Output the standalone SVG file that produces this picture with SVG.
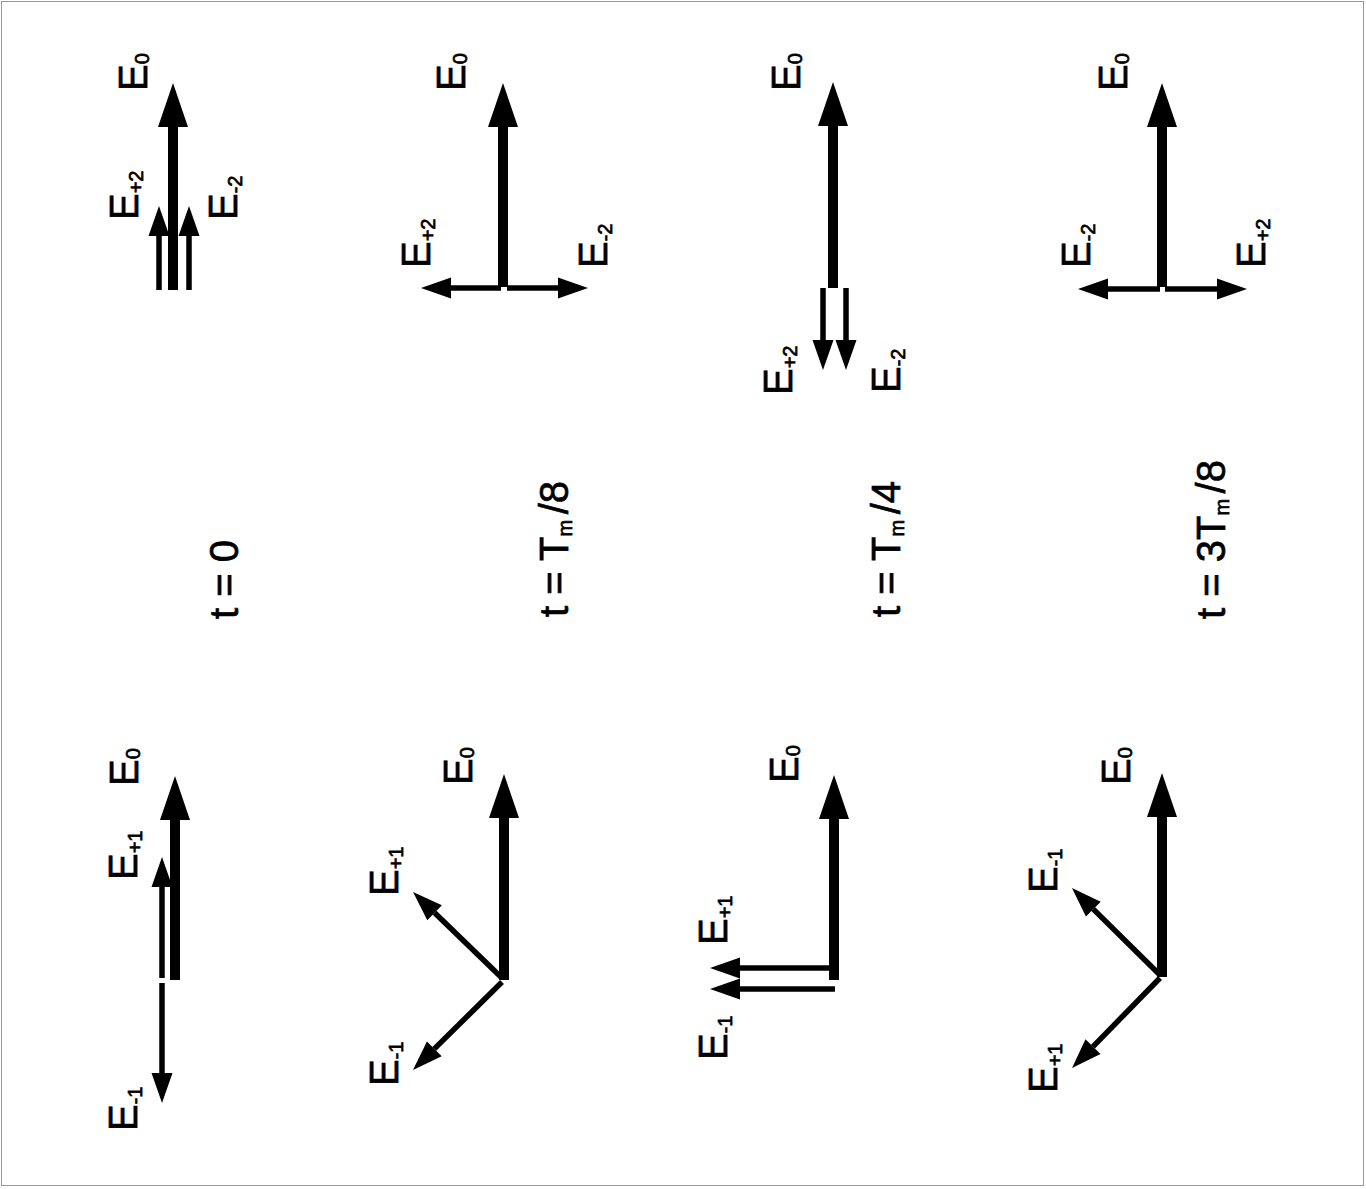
<svg xmlns="http://www.w3.org/2000/svg" width="1366" height="1189" viewBox="0 0 1366 1189">
<style>
.lbl{font-family:"Liberation Sans",Arial,sans-serif;font-size:40px;fill:#000;stroke:#000;stroke-width:0.7}
.sub{font-size:20px}
.thick{stroke:#000;stroke-width:10;fill:none;marker-end:url(#hBig)}
.thin{stroke:#000;stroke-width:5.5;fill:none;marker-end:url(#hSmall)}
</style>
<defs>
<marker id="hBig" markerUnits="userSpaceOnUse" orient="auto" refX="0" refY="15" markerWidth="46" markerHeight="30" overflow="visible"><path d="M0,0 L44,15 L0,30 Z" fill="#000"/></marker>
<marker id="hSmall" markerUnits="userSpaceOnUse" orient="auto" refX="0" refY="10.5" markerWidth="32" markerHeight="21" overflow="visible"><path d="M0,0 L30,10.5 L0,21 Z" fill="#000"/></marker>
</defs>
<rect x="1.5" y="1.5" width="1362" height="1184" fill="#fff" stroke="#999" stroke-width="1"/>
<g id="connectors">
<line class="thick" x1="173" y1="290" x2="173" y2="127"/>
<line class="thin" x1="159" y1="290" x2="159" y2="236"/>
<line class="thin" x1="189" y1="290" x2="189" y2="236"/>
<line class="thick" x1="175" y1="980" x2="175" y2="820"/>
<line class="thin" x1="162" y1="978" x2="162" y2="887"/>
<line class="thin" x1="162" y1="983" x2="162" y2="1073"/>
<line class="thick" x1="503" y1="287" x2="503" y2="127"/>
<line class="thin" x1="501" y1="288" x2="451" y2="288"/>
<line class="thin" x1="507" y1="288" x2="558" y2="288"/>
<line class="thick" x1="504" y1="980" x2="504" y2="818"/>
<line class="thin" x1="502" y1="978" x2="434.6" y2="912.8"/>
<line class="thin" x1="502" y1="982" x2="434.3" y2="1048.9"/>
<line class="thick" x1="833" y1="288" x2="833" y2="126"/>
<line class="thin" x1="823" y1="288" x2="823" y2="340"/>
<line class="thin" x1="846" y1="288" x2="846" y2="340"/>
<line class="thick" x1="834" y1="980" x2="834" y2="819"/>
<line class="thin" x1="830" y1="968" x2="740" y2="968"/>
<line class="thin" x1="835" y1="989" x2="740" y2="989"/>
<line class="thick" x1="1162" y1="287" x2="1162" y2="127"/>
<line class="thin" x1="1160" y1="289" x2="1108" y2="289"/>
<line class="thin" x1="1165" y1="289" x2="1217" y2="289"/>
<line class="thick" x1="1162" y1="977" x2="1162" y2="817"/>
<line class="thin" x1="1160" y1="975" x2="1093.3" y2="909.1"/>
<line class="thin" x1="1160" y1="978" x2="1093" y2="1046.6"/>
</g>
<g id="r1-top">
<text class="lbl" transform="translate(147,91) rotate(-90)">E<tspan class="sub" dy="2">0</tspan></text>
<text class="lbl" transform="translate(138,220) rotate(-90)">E<tspan class="sub" dy="5">+2</tspan></text>
<text class="lbl" transform="translate(237,220) rotate(-90)">E<tspan class="sub" dy="5">-2</tspan></text>
</g>
<g id="r1-bottom">
<text class="lbl" transform="translate(138,786) rotate(-90)">E<tspan class="sub" dy="2">0</tspan></text>
<text class="lbl" transform="translate(137,880) rotate(-90)">E<tspan class="sub" dy="5">+1</tspan></text>
<text class="lbl" transform="translate(137,1131) rotate(-90)">E<tspan class="sub" dy="5">-1</tspan></text>
</g>
<g id="r1-label"><text class="lbl" transform="translate(238,619) rotate(-90)">t = 0</text></g>
<g id="r2-top">
<text class="lbl" transform="translate(465,91) rotate(-90)">E<tspan class="sub" dy="2">0</tspan></text>
<text class="lbl" transform="translate(430,268) rotate(-90)">E<tspan class="sub" dy="5">+2</tspan></text>
<text class="lbl" transform="translate(607,268) rotate(-90)">E<tspan class="sub" dy="5">-2</tspan></text>
</g>
<g id="r2-bottom">
<text class="lbl" transform="translate(472,785) rotate(-90)">E<tspan class="sub" dy="2">0</tspan></text>
<text class="lbl" transform="translate(398,896) rotate(-90)">E<tspan class="sub" dy="5">+1</tspan></text>
<text class="lbl" transform="translate(398,1086) rotate(-90)">E<tspan class="sub" dy="5">-1</tspan></text>
</g>
<g id="r2-label"><text class="lbl" transform="translate(568,617) rotate(-90)">t = T<tspan font-size="20" dy="4">m </tspan><tspan dy="-4">/8</tspan></text></g>
<g id="r3-top">
<text class="lbl" transform="translate(800,91) rotate(-90)">E<tspan class="sub" dy="2">0</tspan></text>
<text class="lbl" transform="translate(792,395) rotate(-90)">E<tspan class="sub" dy="5">+2</tspan></text>
<text class="lbl" transform="translate(900,393) rotate(-90)">E<tspan class="sub" dy="5">-2</tspan></text>
</g>
<g id="r3-bottom">
<text class="lbl" transform="translate(798,783) rotate(-90)">E<tspan class="sub" dy="2">0</tspan></text>
<text class="lbl" transform="translate(727,945) rotate(-90)">E<tspan class="sub" dy="5">+1</tspan></text>
<text class="lbl" transform="translate(727,1060) rotate(-90)">E<tspan class="sub" dy="5">-1</tspan></text>
</g>
<g id="r3-label"><text class="lbl" transform="translate(900,617) rotate(-90)">t = T<tspan font-size="20" dy="4">m </tspan><tspan dy="-4">/4</tspan></text></g>
<g id="r4-top">
<text class="lbl" transform="translate(1127,91) rotate(-90)">E<tspan class="sub" dy="2">0</tspan></text>
<text class="lbl" transform="translate(1090,268) rotate(-90)">E<tspan class="sub" dy="5">-2</tspan></text>
<text class="lbl" transform="translate(1265,268) rotate(-90)">E<tspan class="sub" dy="5">+2</tspan></text>
</g>
<g id="r4-bottom">
<text class="lbl" transform="translate(1130,785) rotate(-90)">E<tspan class="sub" dy="2">0</tspan></text>
<text class="lbl" transform="translate(1057,893) rotate(-90)">E<tspan class="sub" dy="5">-1</tspan></text>
<text class="lbl" transform="translate(1057,1093) rotate(-90)">E<tspan class="sub" dy="5">+1</tspan></text>
</g>
<g id="r4-label"><text class="lbl" transform="translate(1225,619) rotate(-90)">t = 3T<tspan font-size="20" dy="4">m </tspan><tspan dy="-4">/8</tspan></text></g>
</svg>
